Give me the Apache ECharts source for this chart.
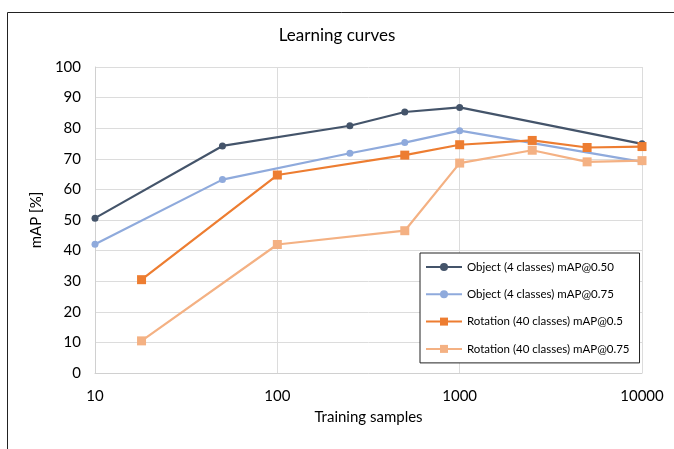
<!DOCTYPE html>
<html>
<head>
<meta charset="utf-8">
<script src="https://cdn.jsdelivr.net/npm/echarts@6/dist/echarts.min.js"></script>
<style>
  html, body { margin: 0; padding: 0; background: #fff; }
  #chart { width: 674px; height: 449px; }
</style>
</head>
<body>
<div id="chart"></div>
<script>
  // training sample counts (x) and mAP values (y)
  var objX = [10, 50, 250, 500, 1000, 10000];
  var obj50 = [50.6, 74.2, 80.8, 85.3, 86.8, 74.9];
  var obj75 = [42.1, 63.2, 71.8, 75.3, 79.2, 69.0];

  var rotX = [18, 100, 500, 1000, 2500, 5000, 10000];
  var rot50 = [30.5, 64.7, 71.2, 74.6, 76.0, 73.7, 74.0];
  var rot75 = [10.5, 42.0, 46.5, 68.6, 72.8, 69.0, 69.4];

  var names = [
    'Object (4 classes) mAP@0.50',
    'Object (4 classes) mAP@0.75',
    'Rotation (40 classes) mAP@0.5',
    'Rotation (40 classes) mAP@0.75'
  ];
  var myColor = ['#44546A', '#8FAADC', '#ED7D31', '#F4B183'];

  function pairs(xs, ys) {
    return xs.map(function (x, i) { return [x, ys[i]]; });
  }

  var font = 'Lato, "Open Sans", sans-serif';
  var chart = echarts.init(document.getElementById('chart'));

  function mkSeries(i, xs, ys, symbol, size) {
    return {
      name: names[i],
      type: 'line',
      symbol: symbol,
      symbolSize: size,
      data: pairs(xs, ys),
      lineStyle: { width: 2.2, color: myColor[i] },
      itemStyle: { color: myColor[i] }
    };
  }

  chart.setOption({
    animation: false,
    color: myColor,
    graphic: [{
      type: 'rect',
      shape: { x: 7.5, y: 12.5, width: 700, height: 500 },
      style: { fill: 'none', stroke: '#222', lineWidth: 1 }
    }],
    title: {
      text: 'Learning curves',
      left: 'center',
      top: 22,
      textStyle: { fontFamily: font, fontSize: 17, fontWeight: 'normal', color: '#000' }
    },
    grid: { left: 95, right: 32, top: 67, bottom: 76 },
    legend: {
      orient: 'vertical',
      left: 420,
      top: 253,
      width: 214,
      height: 110,
      padding: [8, 10, 8, 5],
      itemGap: 15.3,
      itemWidth: 36,
      itemHeight: 10,
      borderColor: '#222',
      borderWidth: 1,
      backgroundColor: '#fff',
      textStyle: { fontFamily: font, fontSize: 11.5, color: '#000' },
      data: names
    },
    xAxis: {
      type: 'log',
      logBase: 10,
      min: 10,
      max: 10000,
      name: 'Training samples',
      nameLocation: 'middle',
      nameGap: 37,
      nameTextStyle: { fontFamily: font, fontSize: 15, color: '#000' },
      axisLine: { lineStyle: { color: '#d0d0d0' } },
      axisTick: { show: false },
      axisLabel: {
        fontFamily: font, fontSize: 15, color: '#000', margin: 16,
        formatter: function (v) { return String(Math.round(v)); }
      },
      splitLine: { show: true, lineStyle: { color: '#dcdcdc', width: 1 } },
      minorTick: { show: false }
    },
    yAxis: {
      type: 'value',
      min: 0,
      max: 100,
      interval: 10,
      name: 'mAP [%]',
      nameLocation: 'middle',
      nameGap: 48,
      nameTextStyle: { fontFamily: font, fontSize: 15, color: '#000' },
      axisLine: { show: true, lineStyle: { color: '#d0d0d0' } },
      axisTick: { show: false },
      axisLabel: { fontFamily: font, fontSize: 15, color: '#000', margin: 14 },
      splitLine: { show: true, lineStyle: { color: '#dcdcdc', width: 1 } }
    },
    series: [
      mkSeries(0, objX, obj50, 'circle', 7),
      mkSeries(1, objX, obj75, 'circle', 7),
      mkSeries(2, rotX, rot50, 'rect', 9),
      mkSeries(3, rotX, rot75, 'rect', 9)
    ]
  });
</script>
</body>
</html>
